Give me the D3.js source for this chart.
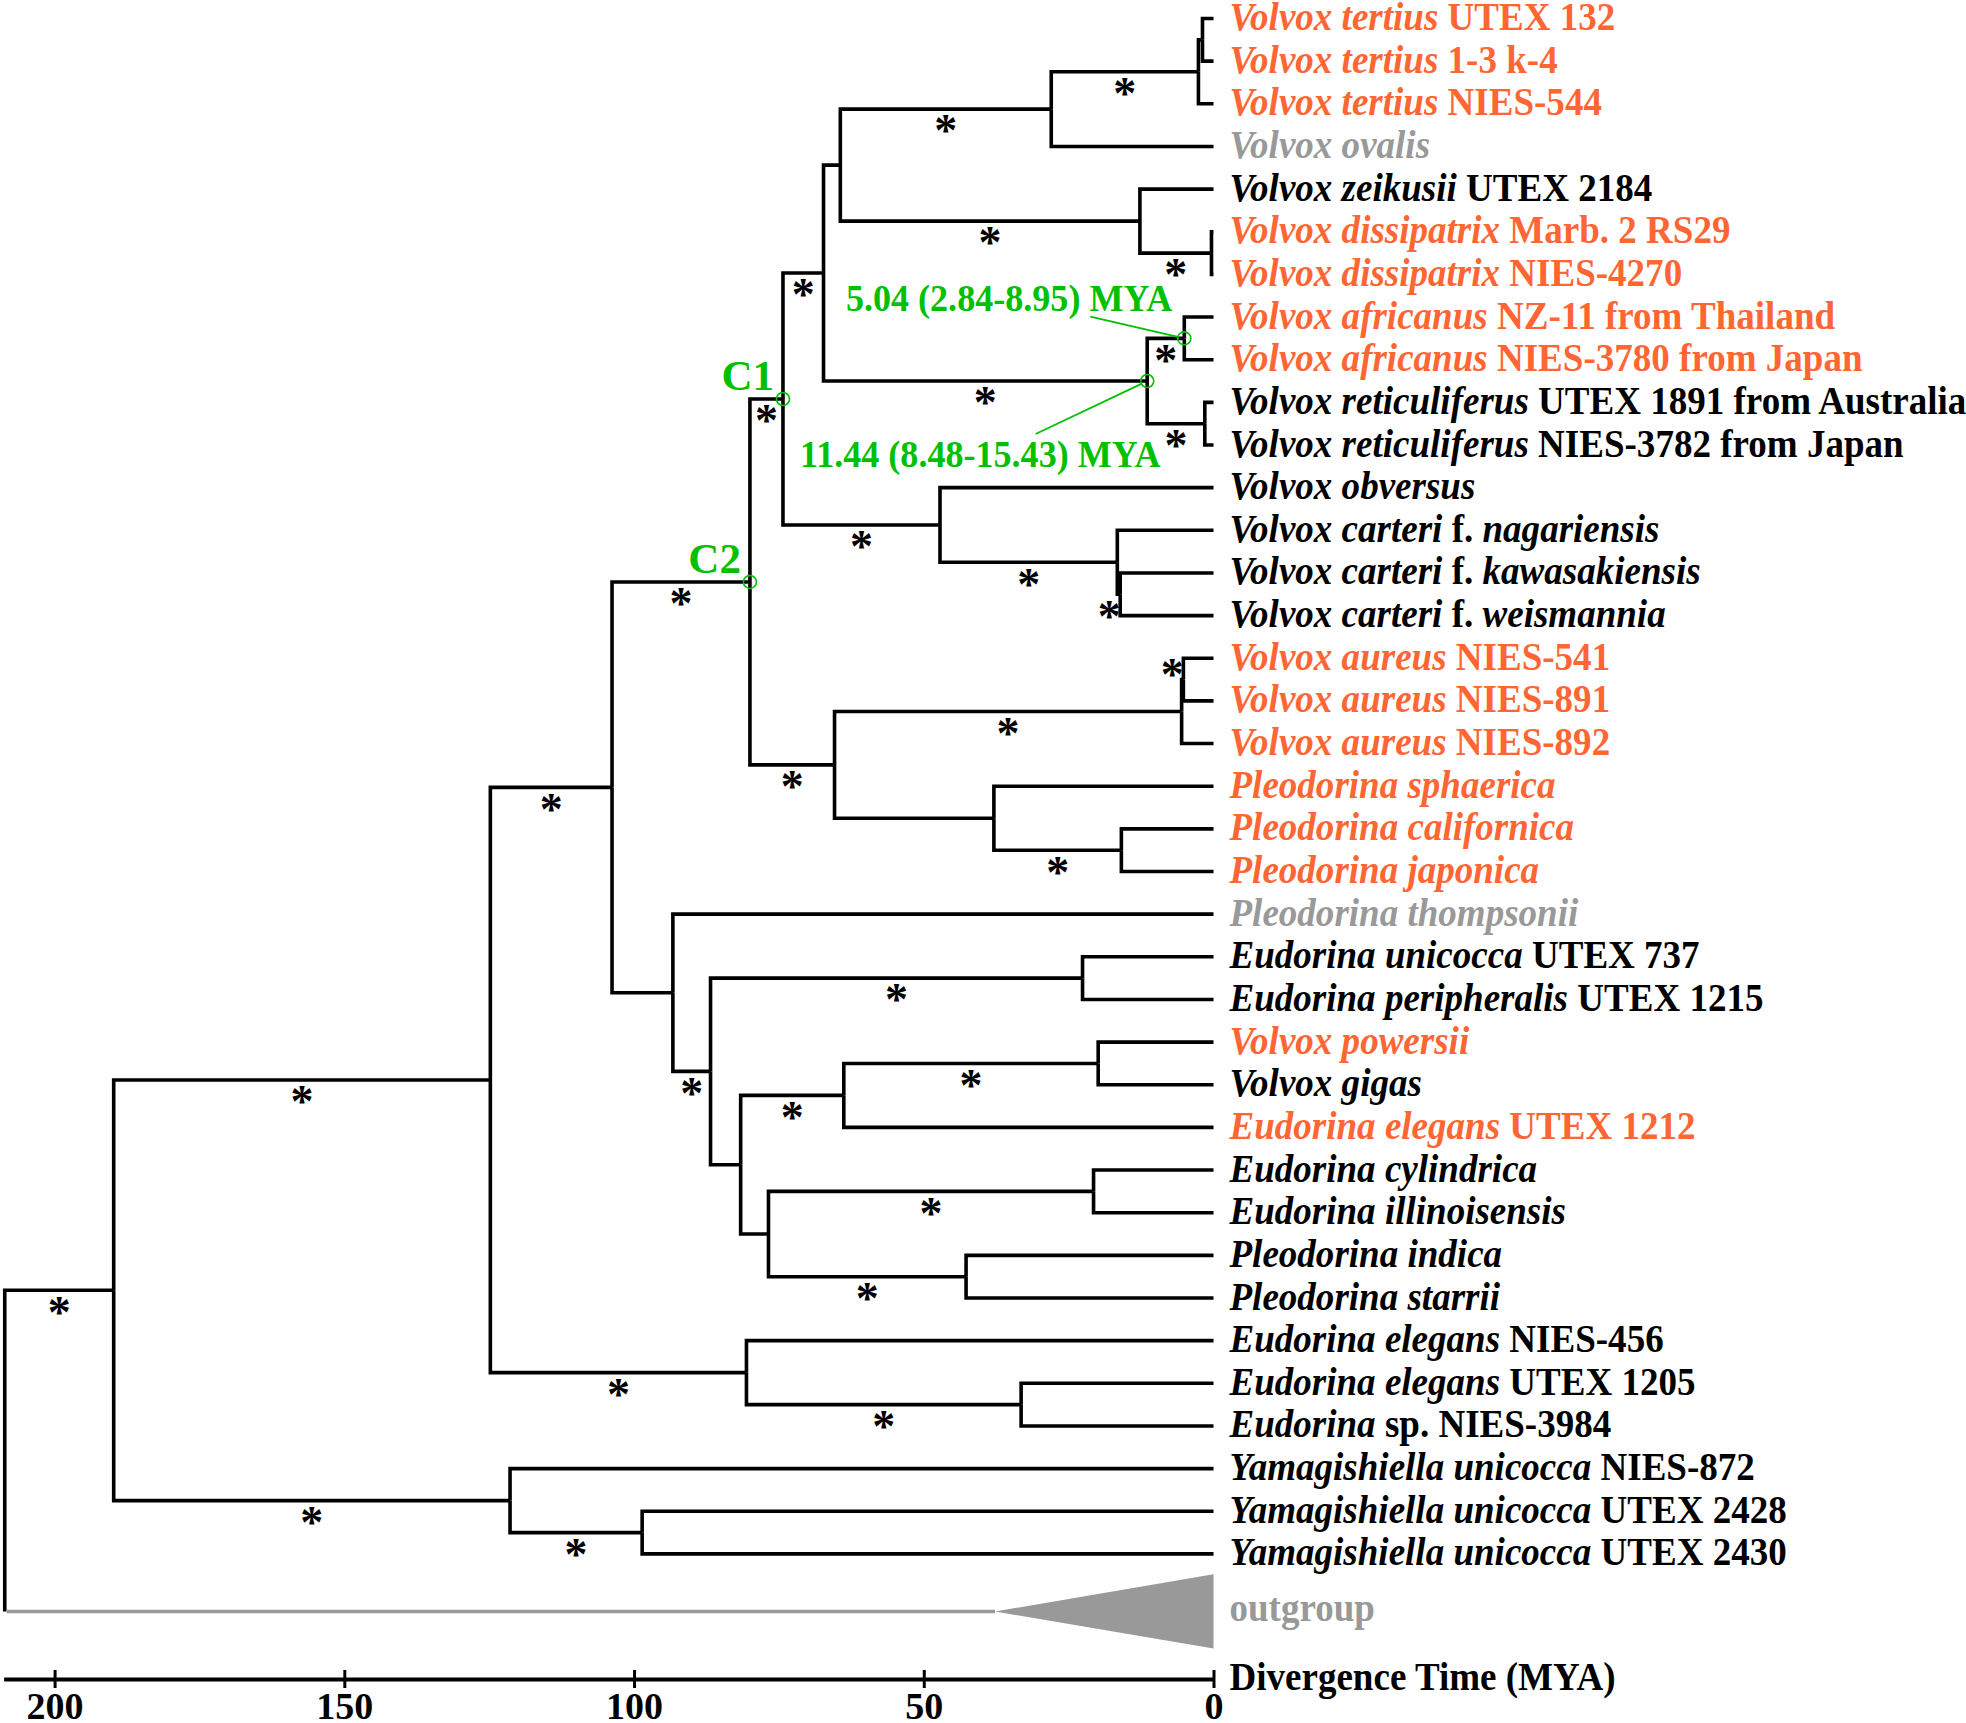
<!DOCTYPE html>
<html>
<head>
<meta charset="utf-8">
<script src="https://cdn.jsdelivr.net/npm/d3@7"></script>
<style>
  html, body { margin: 0; padding: 0; background: #ffffff; }
  svg { display: block; }
  text { font-family: "Liberation Serif", "Times New Roman", Times, serif; font-weight: bold; white-space: pre; }
</style>
</head>
<body>
<svg id="chart" width="1966" height="1723"></svg>
<script>
// ---------------- DATA ----------------
// Tip labels, top to bottom (text between underscores is italic)
const leafLabels = [
  "_Volvox tertius_ UTEX 132",
  "_Volvox tertius_ 1-3 k-4",
  "_Volvox tertius_ NIES-544",
  "_Volvox ovalis_",
  "_Volvox zeikusii_ UTEX 2184",
  "_Volvox dissipatrix_ Marb. 2 RS29",
  "_Volvox dissipatrix_ NIES-4270",
  "_Volvox africanus_ NZ-11 from Thailand",
  "_Volvox africanus_ NIES-3780 from Japan",
  "_Volvox reticuliferus_ UTEX 1891 from Australia",
  "_Volvox reticuliferus_ NIES-3782 from Japan",
  "_Volvox obversus_",
  "_Volvox carteri_ f. _nagariensis_",
  "_Volvox carteri_ f. _kawasakiensis_",
  "_Volvox carteri_ f. _weismannia_",
  "_Volvox aureus_ NIES-541",
  "_Volvox aureus_ NIES-891",
  "_Volvox aureus_ NIES-892",
  "_Pleodorina sphaerica_",
  "_Pleodorina californica_",
  "_Pleodorina japonica_",
  "_Pleodorina thompsonii_",
  "_Eudorina unicocca_ UTEX 737",
  "_Eudorina peripheralis_ UTEX 1215",
  "_Volvox powersii_",
  "_Volvox gigas_",
  "_Eudorina elegans_ UTEX 1212",
  "_Eudorina cylindrica_",
  "_Eudorina illinoisensis_",
  "_Pleodorina indica_",
  "_Pleodorina starrii_",
  "_Eudorina elegans_ NIES-456",
  "_Eudorina elegans_ UTEX 1205",
  "_Eudorina_ sp. NIES-3984",
  "_Yamagishiella unicocca_ NIES-872",
  "_Yamagishiella unicocca_ UTEX 2428",
  "_Yamagishiella unicocca_ UTEX 2430"
];
// Parent node of each tip
const leafParents = ["TEs","TEs","TE","Q","R","DI","DI","AF","AF","RE","RE","N","CA","CAs","CAs",
  "AUs","AUs","AU","PL","CJ","CJ","F","H","H","PG","PG","J","CI","CI","IS","IS","E","Es","Es","Yam","YS","YS"];
// Label colour group of each tip: o = orange, g = grey, k = black
const leafGroups = ["o","o","o","g","k","o","o","o","o","k","k","k","k","k","k",
  "o","o","o","o","o","o","g","k","k","o","k","o","k","k","k","k","k","k","k","k","k","k"];

// Internal nodes, their parents and divergence ages (MYA)
const nodeIds     = ["root","A","B","Yam","YS","D","E","Es","F","G","H","I","J","PG","K","CI","IS","C2","C1","L",
                     "AU","AUs","PL","CJ","M","N","CA","CAs","O","P","AF","RE","Q","TE","TEs","R","DI"];
const nodeParents = [null,"root","A","A","Yam","B","B","E","D","F","G","G","I","J","I","K","K","D","C2","C2",
                     "L","AU","L","PL","C1","C1","N","CA","M","M","P","P","O","Q","TE","O","R"];
const nodeAges    = [208.6,189.8,124.8,121.4,98.6,103.8,80.6,33.2,93.3,86.8,22.6,81.6,63.8,19.9,76.8,20.7,42.7,80.0,74.3,65.4,
                     5.5,5.2,37.9,15.9,67.3,47.2,16.6,16.1,64.4,11.44,5.04,1.5,28.0,2.6,1.9,12.7,0.35];

// Nodes with strong support (asterisk on the branch leading to them)
const supportNodes = ["A","B","Yam","YS","D","E","Es","G","H","J","PG","CI","IS","C2","C1","L","AU","AUs","CJ",
                      "M","N","CA","CAs","P","AF","RE","Q","TE","R","DI"];
const supportAbove = ["AUs"];

// Collapsed outgroup
const outgroupLabel = "outgroup";
const outgroupAge = 37.7;

// Highlighted nodes and annotations
const circledNodes = ["C1","C2","P","AF"];
const cladeLabels = [{node: "C1", text: "C1"}, {node: "C2", text: "C2"}];
const ageLabels = [{node: "AF", text: "5.04 (2.84-8.95) MYA"}, {node: "P", text: "11.44 (8.48-15.43) MYA"}];

// Axis
const axisTicks = [200, 150, 100, 50, 0];
const axisTitle = "Divergence Time (MYA)";

// ---------------- LAYOUT ----------------
const colors = { o: "#ff6633", g: "#999999", k: "#000000" };
const green = "#00c000";
const grey = "#999999";
const lw = 3.6;
const sx = 0.95;          // slight horizontal condensing of the serif text
const leafFont = 39;

const svg = d3.select("#chart");
const x = d3.scaleLinear().domain([208.8, 0]).range([3.6, 1213.5]);
const y = d3.scaleLinear().domain([0, 36]).range([18.5, 1553.9]);
const outgroupRow = 37.35;
const outgroupHalfRows = 0.87;
const ogY = y(outgroupRow);

const rows = nodeIds.map((id, i) => ({ id, parentId: nodeParents[i], age: nodeAges[i] }))
  .concat(leafLabels.map((lab, i) => ({ id: "leaf" + i, parentId: leafParents[i], age: 0, leafIndex: i, label: lab, group: leafGroups[i] })));
const root = d3.stratify().id(d => d.id).parentId(d => d.parentId)(rows);

root.eachAfter(n => {
  n.px = x(n.data.age);
  if (!n.children) n.py = y(n.data.leafIndex);
  else {
    const ys = n.children.map(c => c.py);
    n.py = (d3.min(ys) + d3.max(ys)) / 2;
  }
});
// root also joins the outgroup
root.py = (root.children[0].py + ogY) / 2;

const byId = new Map();
root.each(n => byId.set(n.id, n));

// branches
const gTree = svg.append("g");
gTree.selectAll("path.branch")
  .data(root.links())
  .join("path")
  .attr("class", "branch")
  .attr("d", l => `M${l.source.px},${l.source.py}V${l.target.py}H${l.target.px}`)
  .attr("fill", "none")
  .attr("stroke", "#000")
  .attr("stroke-width", lw)
  .attr("stroke-linejoin", "miter");

// outgroup branch
gTree.append("path")
  .attr("d", `M${root.px},${root.py}V${ogY}`)
  .attr("fill", "none").attr("stroke", "#000").attr("stroke-width", lw);
gTree.append("path")
  .attr("d", `M${root.px + lw / 2},${ogY}H${x(outgroupAge)}`)
  .attr("fill", "none").attr("stroke", grey).attr("stroke-width", lw);
const triH = y(outgroupRow + outgroupHalfRows) - ogY;
gTree.append("path")
  .attr("d", `M${x(outgroupAge)},${ogY}L${x(0)},${ogY - triH}L${x(0)},${ogY + triH}Z`)
  .attr("fill", grey);

// helper: condensed text placed at (px, py)
function place(sel, fx, fy) {
  return sel.attr("transform", d => `translate(${fx(d)},${fy(d)}) scale(${sx},1)`);
}

// tip labels
const leafNodes = root.leaves().sort((a, b) => a.data.leafIndex - b.data.leafIndex);
const labels = svg.append("g").selectAll("text")
  .data(leafNodes)
  .join("text")
  .attr("font-size", leafFont)
  .attr("fill", d => colors[d.data.group]);
place(labels, d => d.px + 16, d => d.py + 11.5);
labels.each(function(d) {
  const parts = d.data.label.split("_");
  const t = d3.select(this);
  parts.forEach((p, i) => {
    if (!p) return;
    t.append("tspan").attr("font-style", i % 2 === 1 ? "italic" : "normal").text(p);
  });
});

place(svg.append("text").datum(0), () => x(0) + 16, () => ogY + 10)
  .attr("font-size", leafFont).attr("fill", grey)
  .text(outgroupLabel);

// asterisks
const starFont = 46;
svg.append("g").selectAll("text")
  .data(supportNodes.map(id => byId.get(id)))
  .join("text")
  .attr("text-anchor", "middle")
  .attr("font-size", starFont)
  .attr("x", n => {
    const len = n.px - n.parent.px;
    return len < 10 ? n.px - 11 : (n.px + n.parent.px) / 2;
  })
  .attr("y", n => (supportAbove.includes(n.id) ? n.py - 12 : n.py + 15) + starFont * 0.486)
  .text("*");

// green annotations
const gAnn = svg.append("g");
gAnn.selectAll("circle")
  .data(circledNodes.map(id => byId.get(id)))
  .join("circle")
  .attr("cx", n => n.px).attr("cy", n => n.py).attr("r", 6.5)
  .attr("fill", "none").attr("stroke", green).attr("stroke-width", 1.6);

gAnn.selectAll("text.clade")
  .data(cladeLabels)
  .join("text")
  .attr("class", "clade")
  .attr("text-anchor", "end")
  .attr("font-size", 43)
  .attr("fill", green)
  .attr("x", d => byId.get(d.node).px - 9)
  .attr("y", d => byId.get(d.node).py - 9)
  .text(d => d.text);

// age labels with pointer lines (offsets relative to their node)
const ageLayout = {
  AF: { tx: -12, ty: -27, from: [-94, -21.7] },
  P:  { tx: 13.4, ty: 85.7, from: [-111.6, 53] }
};
ageLabels.forEach(a => {
  const n = byId.get(a.node);
  const L = ageLayout[a.node];
  place(gAnn.append("text").datum(a), () => n.px + L.tx, () => n.py + L.ty)
    .attr("text-anchor", "end")
    .attr("font-size", 38)
    .attr("fill", green)
    .text(a.text);
  const dx = L.from[0], dy = L.from[1];
  const len = Math.hypot(dx, dy);
  gAnn.append("line")
    .attr("x1", n.px + dx).attr("y1", n.py + dy)
    .attr("x2", n.px + dx / len * 6.5).attr("y2", n.py + dy / len * 6.5)
    .attr("stroke", green).attr("stroke-width", 1.8);
});

// axis
const axisY = 1679;
const gAxis = svg.append("g")
  .attr("transform", `translate(0,${axisY})`)
  .call(d3.axisBottom(x).tickValues(axisTicks).tickSizeOuter(0).tickSizeInner(9).tickFormat(d3.format("d")));
gAxis.select(".domain").attr("stroke", "#000").attr("stroke-width", 4);
gAxis.selectAll(".tick line").attr("y1", -9).attr("y2", 9).attr("stroke", "#000").attr("stroke-width", 3);
gAxis.selectAll(".tick text")
  .attr("y", 40).attr("dy", 0)
  .attr("font-size", 38)
  .attr("font-family", "'Liberation Serif', 'Times New Roman', serif")
  .attr("font-weight", "bold")
  .attr("fill", "#000");
gAxis.attr("font-family", null).attr("font-size", null);

place(svg.append("text").datum(0), () => x(0) + 16, () => axisY + 11)
  .attr("font-size", leafFont).attr("fill", "#000")
  .text(axisTitle);
</script>
</body>
</html>
